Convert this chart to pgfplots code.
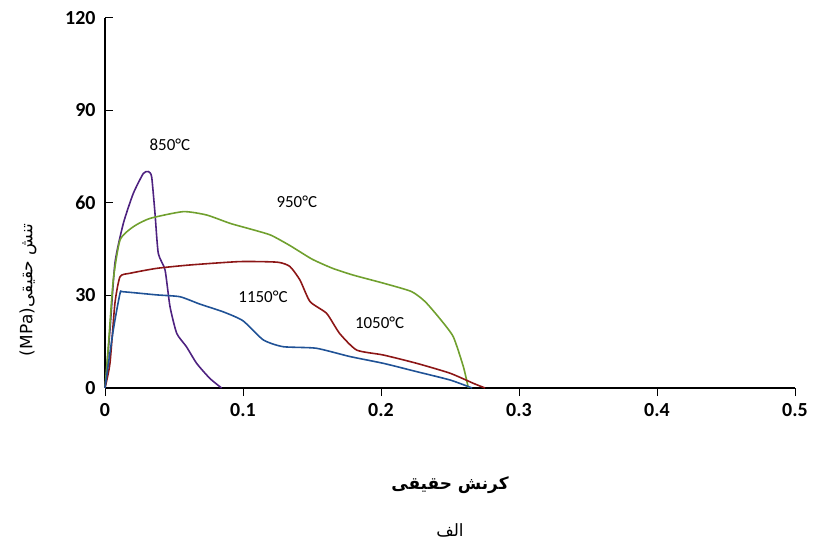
\documentclass[border=0pt]{standalone}
\usepackage{pgfplots}
\pgfplotsset{compat=1.18}
\usepackage{fontspec}
\setmainfont{Carlito}
\newfontfamily\arabicfont[Script=Arabic]{DejaVu Sans}
\TeXXeTstate=1
\definecolor{cpurple}{RGB}{78,34,128}
\definecolor{cgreen}{RGB}{112,160,46}
\definecolor{cred}{RGB}{140,22,22}
\definecolor{cblue}{RGB}{32,82,150}
\begin{document}
\begin{tikzpicture}
\useasboundingbox (-105bp,-164bp) rectangle (709bp,388bp);
\begin{axis}[
  scale only axis,
  width=690bp, height=370bp,
  xmin=0, xmax=0.5, ymin=0, ymax=120,
  axis x line*=bottom, axis y line*=left,
  axis line style={line width=1.2pt, -},
  xtick={0,0.1,0.2,0.3,0.4,0.5},
  xticklabels={0,0.1,0.2,0.3,0.4,0.5},
  ytick={0,30,60,90,120},
  x tick style={line width=1pt, black},
  y tick style={line width=1pt, black},
  xtick align=outside, ytick align=inside,
  major tick length=8bp,
  tick label style={font=\fontsize{20}{22}\selectfont\bfseries},
  /pgf/number format/assume math mode=true,
  xticklabel style={yshift=-4bp},
  yticklabel style={xshift=-6bp},
  clip=false,
  every axis plot/.append style={line width=1.6pt, smooth, tension=0.35},
]
\addplot[cpurple] coordinates {
(0,0) (0.0036,18.8) (0.0072,40.5) (0.0133,53.4) (0.0205,63.1) (0.0278,69.6) (0.0314,70.2) (0.0338,68.5) (0.0362,56.8) (0.0386,43.7) (0.0435,38.3) (0.0471,26.4) (0.052,17.7) (0.059,13.4) (0.0664,8) (0.076,3.1) (0.0845,0)
};
\addplot[cgreen] coordinates {
(0,0) (0.0024,13.4) (0.006,35) (0.0109,48) (0.0205,52.3) (0.0326,55) (0.0567,57.2) (0.0737,56.1) (0.0906,53.4) (0.105,51.6) (0.12,49.6) (0.134,46.2) (0.15,41.8) (0.165,38.8) (0.18,36.6) (0.2017,34) (0.222,31.3) (0.232,28) (0.243,22.3) (0.2524,16.6) (0.2597,6.9) (0.2633,0)
};
\addplot[cred] coordinates {
(0,0) (0.0036,8) (0.0072,27.5) (0.0109,36.1) (0.018,37.2) (0.0374,38.8) (0.0616,39.9) (0.0978,41) (0.125,40.8) (0.134,39.4) (0.1413,35) (0.1486,28) (0.1606,24.2) (0.17,17.7) (0.1824,12.3) (0.2017,10.7) (0.2259,8) (0.25,4.8) (0.267,1.5) (0.2754,0)
};
\addplot[cblue] coordinates {
(0,0) (0.006,18.8) (0.0109,30.7) (0.0133,31.2) (0.0374,30.2) (0.0543,29.6) (0.0688,27.2) (0.0857,24.7) (0.1,21.8) (0.1147,15.6) (0.129,13.4) (0.153,12.9) (0.1775,10.2) (0.2017,8) (0.2259,5.3) (0.25,2.6) (0.266,0)
};
\node[font=\fontsize{17}{19}\selectfont] at (axis cs:0.047,78.8) {850°C};
\node[font=\fontsize{17}{19}\selectfont] at (axis cs:0.139,60.3) {950°C};
\node[font=\fontsize{17}{19}\selectfont] at (axis cs:0.1145,29.5) {1150°C};
\node[font=\fontsize{17}{19}\selectfont] at (axis cs:0.199,21) {1050°C};
\end{axis}
\node[rotate=90, font=\arabicfont\fontsize{17}{19}\selectfont] at (-77bp,98bp) {\beginR تنش حقیقی\beginL(MPa)\endL\endR};
\node[font=\arabicfont\bfseries\fontsize{17}{19}\selectfont] at (345bp,-97bp) {\beginR کرنش حقیقی\endR};
\node[font=\arabicfont\fontsize{17}{19}\selectfont] at (345bp,-142bp) {\beginR الف\endR};
\end{tikzpicture}
\end{document}
